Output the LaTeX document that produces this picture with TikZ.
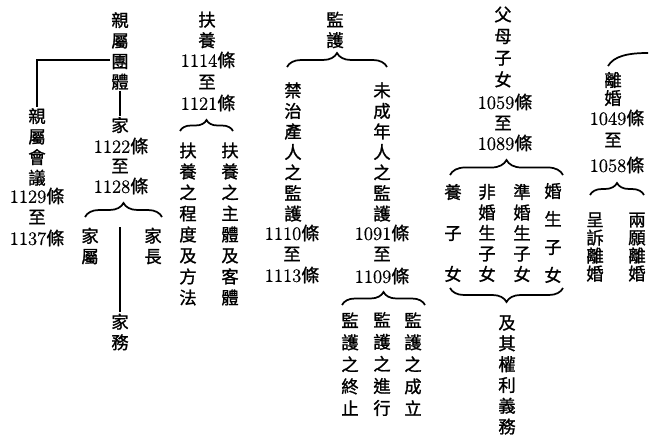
\documentclass[tikz,border=0pt]{standalone}
\usepackage{fontspec}
\setmainfont{Latin Modern Roman}[FakeBold=0.6]
\newfontfamily\cjk{Noto Sans CJK TC}[FakeBold=1.2]
\usetikzlibrary{decorations.pathreplacing}

\newcommand{\tiao}{{\cjk\fontsize{13.5}{15}\selectfont 條}}

\tikzset{
  vt/.style={font=\cjk\fontsize{13}{#1}\selectfont, align=center, inner sep=0.75pt},
  vt/.default=15.4pt,
  num/.style={font=\fontsize{14}{16}\selectfont, inner sep=0.75pt},
  ln/.style={line width=1.6pt},
  brc/.style={decorate, decoration={brace, amplitude=#1}, line width=1.3pt},
  brcm/.style={decorate, decoration={brace, mirror, amplitude=#1}, line width=1.3pt},
}

\begin{document}
\begin{tikzpicture}[x=0.75pt,y=0.75pt,yscale=-1,xscale=1]
%set diagram size
\useasboundingbox (0,0) rectangle (652,442);

% Text Node
\draw (37,147) node [vt] (meet) {親\\屬\\會\\議};
\draw (37,196) node [num] (n1129) {1129\tiao};
\draw (37,217) node [vt] (to1) {至};
\draw (37,238) node [num] (n1137) {1137\tiao};
% Text Node
\draw (120,51) node [vt] (grp) {親\\屬\\團\\體};
\draw (120,125) node [vt] (jia) {家};
\draw (121,146) node [num] (n1122) {1122\tiao};
\draw (120,166) node [vt] (to2) {至};
\draw (121,186) node [num] (n1128) {1128\tiao};
\draw (90,246) node [vt] (jiashu) {家\\屬};
\draw (153,246) node [vt] (jiazhang) {家\\長};
\draw (120,332) node [vt] (jiawu) {家\\務};
% Text Node
\draw (207,30) node [vt] (fuyang) {扶\\養};
\draw (208,60) node [num] (n1114) {1114\tiao};
\draw (207,82) node [vt] (to3) {至};
\draw (208,103) node [num] (n1121) {1121\tiao};
\draw (188,224) node [vt=15.75pt] (chengdu) {扶\\養\\之\\程\\度\\及\\方\\法};
\draw (230,224) node [vt=15.75pt] (zhuti) {扶\\養\\之\\主\\體\\及\\客\\體};
% Text Node
\draw (335,30) node [vt] (jianhu) {監\\護};
\draw (293,152) node [vt] (jinzhi) {禁\\治\\產\\人\\之\\監\\護};
\draw (292,233) node [num] (n1110) {1110\tiao};
\draw (292,254) node [vt] (to4) {至};
\draw (292,275) node [num] (n1113) {1113\tiao};
\draw (382,152) node [vt] (weicheng) {未\\成\\年\\人\\之\\監\\護};
\draw (382,233) node [num] (n1091) {1091\tiao};
\draw (382,254) node [vt] (to5) {至};
\draw (382,276) node [num] (n1109) {1109\tiao};
\draw (350,364) node [vt=16.5pt] (zhongzhi) {監\\護\\之\\終\\止};
\draw (382,364) node [vt=16.5pt] (jinxing) {監\\護\\之\\進\\行};
\draw (413,364) node [vt=16.5pt] (chengli) {監\\護\\之\\成\\立};
% Text Node
\draw (503,47) node [vt=16.25pt] (fumu) {父\\母\\子\\女};
\draw (505,102) node [num] (n1059) {1059\tiao};
\draw (503,123) node [vt] (to6) {至};
\draw (505,143) node [num] (n1089) {1089\tiao};
\draw (453,233) node [vt=30.75pt] (yangzi) {養\\子\\女};
\draw (487,233) node [vt] (feihun) {非\\婚\\生\\子\\女};
\draw (522,233) node [vt] (zhunhun) {準\\婚\\生\\子\\女};
\draw (553,233) node [vt=21pt] (hunsheng) {婚\\生\\子\\女};
\draw (507,375) node [vt=15.6pt] (quanli) {及\\其\\權\\利\\義\\務};
% Text Node
\draw (613,89) node [vt=13.5pt] (lihun) {離\\婚};
\draw (617,118) node [num] (n1049) {1049\tiao};
\draw (613,140) node [vt] (to7) {至};
\draw (617,165) node [num] (n1058) {1058\tiao};
\draw (595,247) node [vt=13.5pt] (chengsu) {呈\\訴\\離\\婚};
\draw (637,247) node [vt=13.5pt] (liangyuan) {兩\\願\\離\\婚};

% brace ends
\coordinate (b2l) at (85,217);  \coordinate (b2r) at (162,217);
\coordinate (b3l) at (180,131); \coordinate (b3r) at (233,131);
\coordinate (b4l) at (287,67);  \coordinate (b4r) at (387,67);
\coordinate (b5l) at (342,305); \coordinate (b5r) at (425,305);
\coordinate (b6l) at (450,175); \coordinate (b6r) at (563,175);
\coordinate (b7l) at (450,288); \coordinate (b7r) at (563,288);
\coordinate (b8l) at (590,195); \coordinate (b8r) at (644,195);
\coordinate (grpL) at (110,60);
\coordinate (hh) at (120,227);

%Straight Lines
\draw [ln] (grpL) -| (meet.north);
\draw [ln] (grp.south) -- (jia.north);
\draw [ln] (hh) -- (jiawu.north);

%Curve Lines
\draw [brc=10.5pt] (b2l) -- (b2r);
\draw [brc=8.25pt] (b3l) -- (b3r);
\draw [brc=10.5pt] (b4l) -- (b4r);
\draw [brc=9.75pt] (b5l) -- (b5r);
\draw [brc=11.25pt] (b6l) -- (b6r);
\draw [brcm=10.5pt] (b7l) -- (b7r);
\draw [brc=9pt] (b8l) -- (b8r);
\draw [line width=1.3pt] (608,66) .. controls (614,56) and (628,53) .. (648,53);

\end{tikzpicture}
\end{document}
